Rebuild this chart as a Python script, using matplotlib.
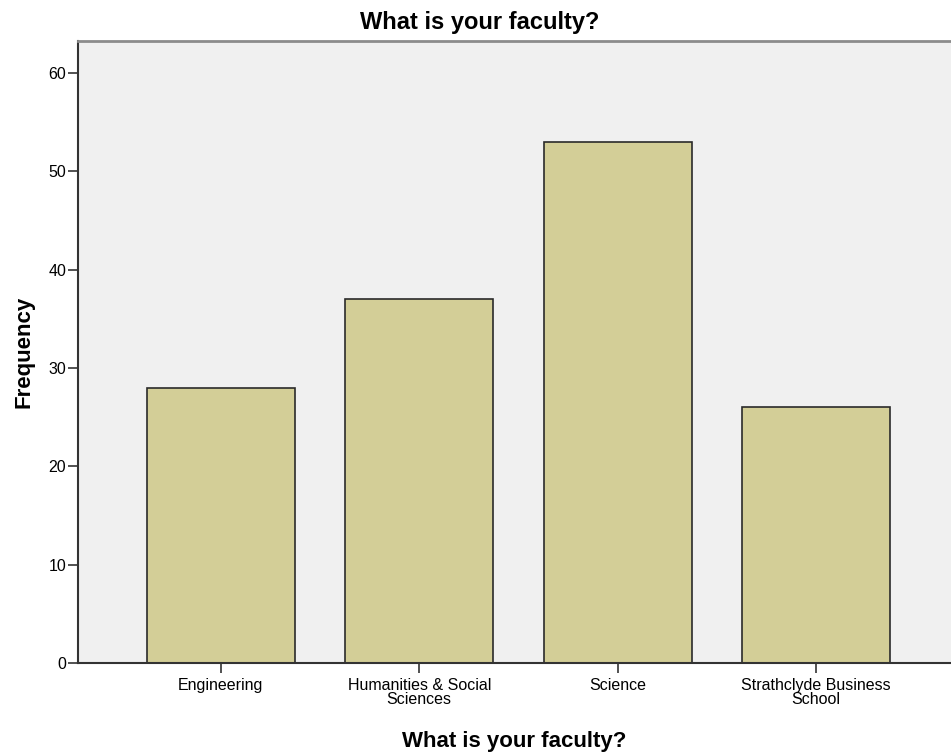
import numpy as np
import matplotlib
matplotlib.use("Agg")
import matplotlib.pyplot as plt

plt.rcParams["font.family"] = ["Liberation Sans", "DejaVu Sans"]

faculties = ["Engineering", "Humanities & Social\nSciences", "Science",
             "Strathclyde Business\nSchool"]
frequency = [28, 37, 53, 26]
y_ticks = [0, 10, 20, 30, 40, 50, 60]

fig = plt.figure(figsize=(9.51, 7.54), dpi=100)
# axes box: x 78..951 px, y 41..663 px
ax = fig.add_axes([0.082, 0.1207, 0.918, 0.8249])
ax.set_facecolor("#f0f0f0")

x = np.arange(len(faculties))
ax.bar(x, frequency, width=0.747, color="#d3ce97", edgecolor="#2a2a2a",
       linewidth=1.2, zorder=2)

ax.set_xlim(-0.72, 3.68)
ax.set_ylim(0, 63.25)
ax.set_yticks(y_ticks)
ax.set_xticks(x)
ax.set_xticklabels(faculties, fontsize=11.5, linespacing=0.93)
ax.tick_params(axis="y", labelsize=11.5, length=7, width=1.2, color="#333333", pad=1.5)
ax.tick_params(axis="x", length=7, width=1.2, color="#333333", pad=4)

for side in ["left", "bottom"]:
    ax.spines[side].set_color("#333333")
    ax.spines[side].set_linewidth(1.5)
ax.spines["top"].set_color("#8c8c8c")
ax.spines["top"].set_linewidth(2)
ax.spines["right"].set_visible(False)

fig.text(480 / 951, 1 - 22 / 754, "What is your faculty?", fontsize=17,
         fontweight="bold", ha="center", va="center")
ax.set_xlabel("What is your faculty?", fontsize=16, fontweight="bold")
ax.xaxis.set_label_coords(0.5, -0.11)
ax.set_ylabel("Frequency", fontsize=16, fontweight="bold")
ax.yaxis.set_label_coords(-0.05, 0.5)

fig.savefig("out.png", dpi=100)
